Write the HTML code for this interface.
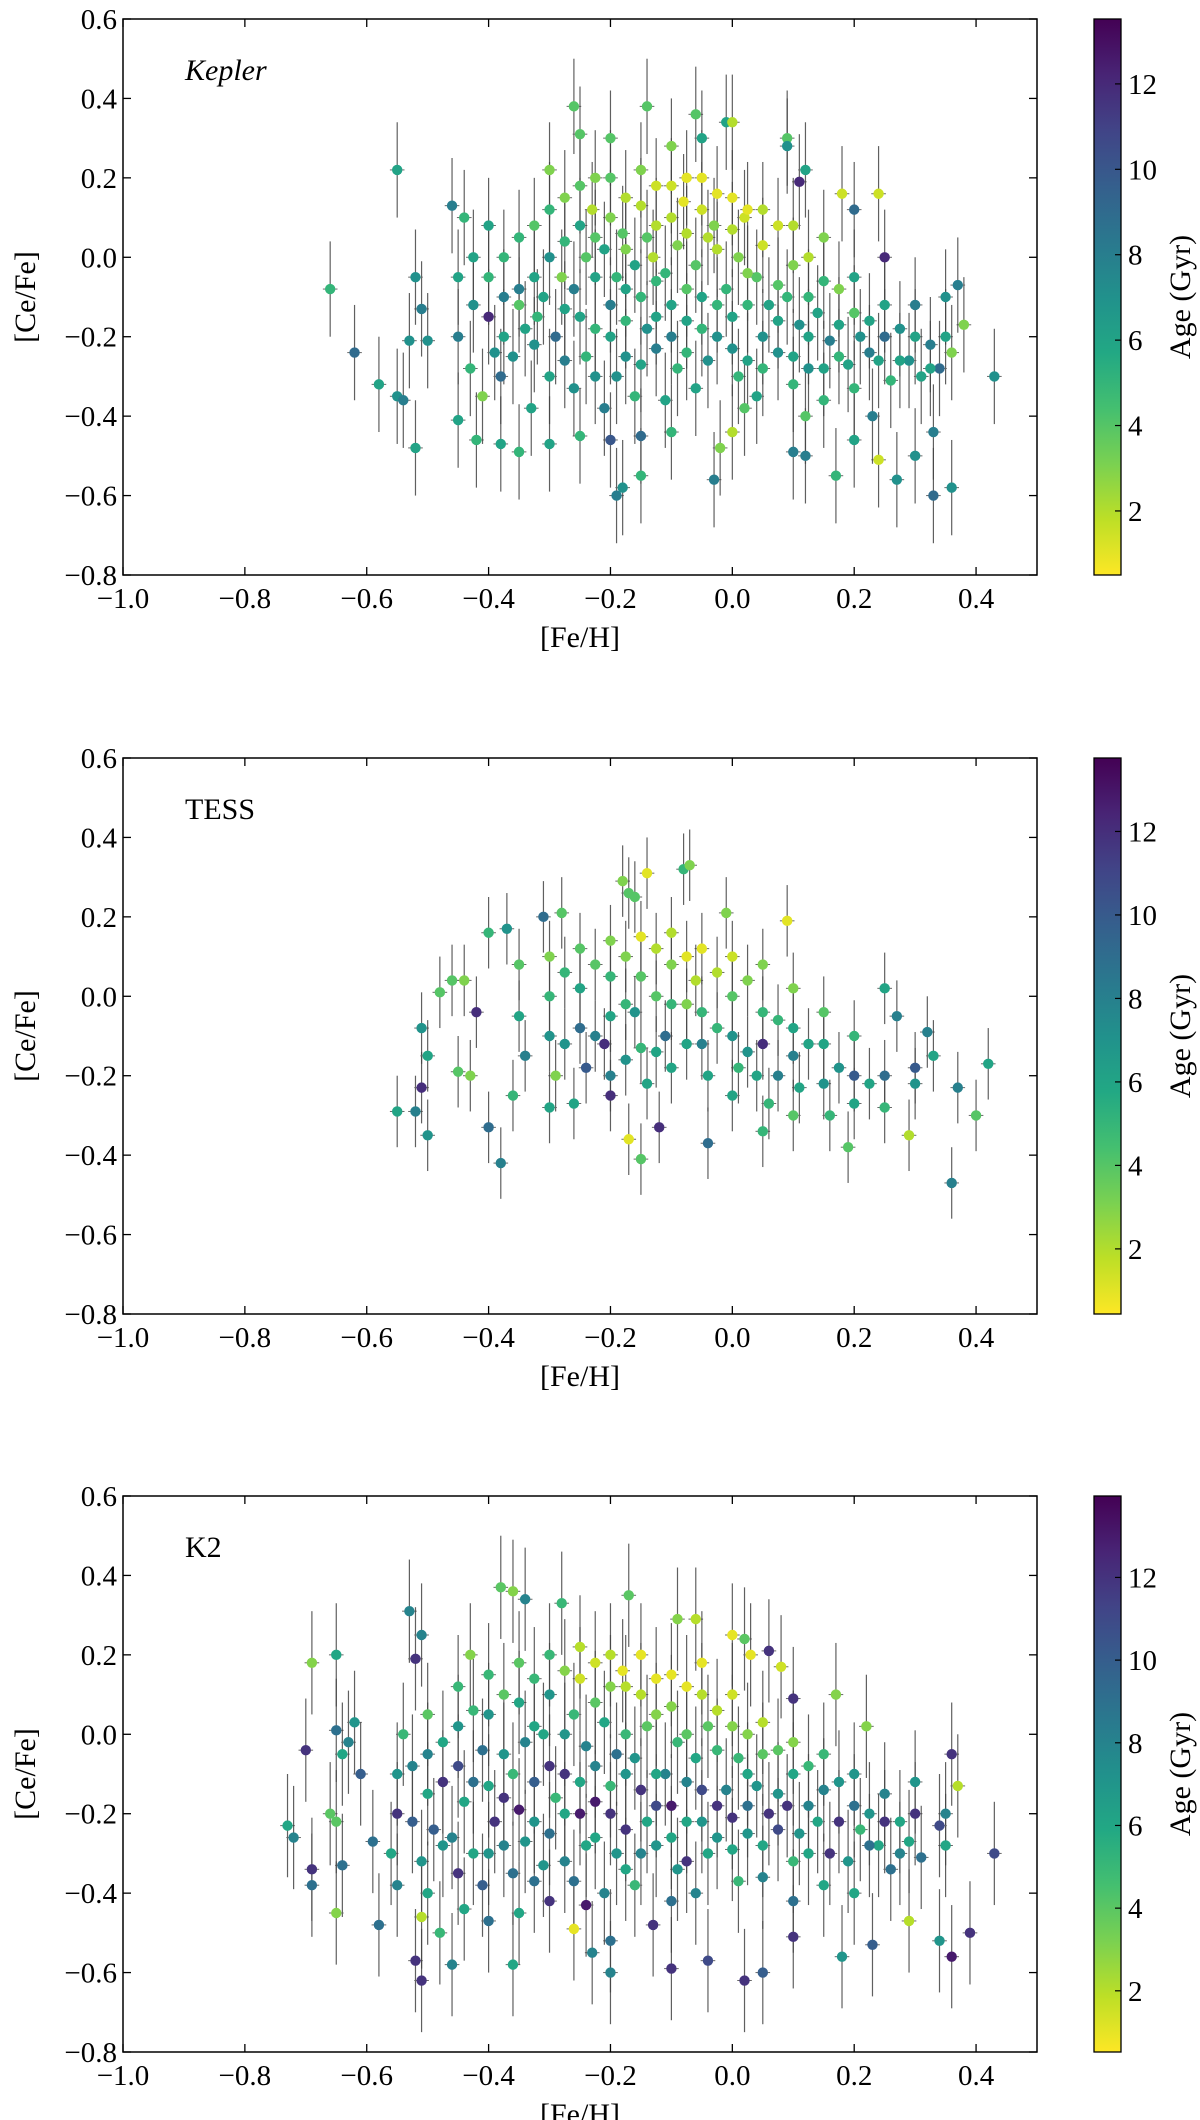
<!DOCTYPE html>
<html><head><meta charset="utf-8">
<style>
html,body{margin:0;padding:0;background:#fff;}
svg{display:block;font-family:"Liberation Serif",serif;}
</style></head>
<body>
<svg id="fig" width="1200" height="2120" viewBox="0 0 1200 2120" xmlns="http://www.w3.org/2000/svg">
<defs>
<linearGradient id="viridis" x1="0" y1="1" x2="0" y2="0">
<stop offset="0" stop-color="#fde725"/><stop offset="0.1" stop-color="#bddf26"/><stop offset="0.2" stop-color="#7ad151"/><stop offset="0.3" stop-color="#44bf70"/><stop offset="0.4" stop-color="#22a884"/><stop offset="0.5" stop-color="#21918c"/><stop offset="0.6" stop-color="#2a788e"/><stop offset="0.7" stop-color="#355f8d"/><stop offset="0.8" stop-color="#414487"/><stop offset="0.9" stop-color="#482475"/><stop offset="1" stop-color="#440154"/>
</linearGradient>
</defs>
</svg>
<script>
// ---- data: [Fe/H], [Ce/Fe], Age (Gyr) ----
const keplerPoints = [
[-0.66,-0.08,5],[-0.62,-0.24,9],[-0.58,-0.32,6],[-0.55,0.22,6],[-0.55,-0.35,7],[-0.54,-0.36,8],[-0.52,-0.48,6],[-0.51,-0.13,8],[-0.52,-0.05,7],[-0.53,-0.21,7],[-0.5,-0.21,7],[0.43,-0.3,7],[0.38,-0.17,3],[0.37,-0.07,8],[0.36,-0.58,7],[0.33,-0.6,9],[0.33,-0.44,8],[0.24,0.16,1.5],[0.25,0.0,12],[0.2,0.12,9],[0.18,0.16,1.5],[0.11,0.19,12],[0.09,0.3,4],[0.09,0.28,7],[0.12,0.22,6],[-0.26,0.38,4],[-0.14,0.38,4],[-0.06,0.36,4],[-0.01,0.34,6],[0.0,0.34,2],[-0.05,0.3,6],[-0.25,0.31,4],[-0.2,0.3,4],[-0.1,0.28,3],[-0.03,-0.56,8],[-0.19,-0.6,8],[-0.18,-0.58,7],[-0.15,-0.55,5],[-0.02,-0.48,3],[0.0,-0.44,2],[0.17,-0.55,5],[0.27,-0.56,7],[0.24,-0.51,1.5],[0.3,-0.5,7],[-0.38,-0.47,6],[-0.35,-0.49,5],[-0.42,-0.46,5],[-0.45,-0.41,6],[-0.3,-0.47,6],[-0.25,-0.45,5],[-0.2,-0.46,10],[-0.15,-0.45,9],[-0.1,-0.44,5],[0.1,-0.49,8],[0.12,-0.5,8],[0.2,-0.46,6],
[-0.45,-0.05,6],[-0.45,-0.2,8],[-0.44,0.1,5],[-0.43,-0.28,5],[-0.46,0.13,8],
[-0.4,0.08,6],[-0.4,-0.05,5],[-0.4,-0.15,12],[-0.39,-0.24,7],[-0.41,-0.35,3],[-0.38,-0.3,9],
[-0.35,0.05,5],[-0.35,-0.08,8],[-0.34,-0.18,6],[-0.36,-0.25,7],[-0.33,-0.38,6],[-0.35,-0.12,4],
[-0.3,0.22,3],[-0.3,0.12,5],[-0.3,0.0,7],[-0.31,-0.1,6],[-0.29,-0.2,9],[-0.3,-0.3,6],[-0.28,-0.05,3],[-0.32,-0.15,5],
[-0.25,0.18,4],[-0.25,0.08,6],[-0.24,0.0,4],[-0.26,-0.08,8],[-0.25,-0.15,6],[-0.24,-0.25,5],[-0.26,-0.33,7],[-0.23,0.12,2],
[-0.2,0.2,4],[-0.2,0.1,3],[-0.21,0.02,6],[-0.19,-0.05,5],[-0.2,-0.12,8],[-0.2,-0.2,6],[-0.19,-0.3,7],[-0.21,-0.38,8],[-0.18,0.06,4],
[-0.15,0.22,3],[-0.15,0.13,2],[-0.14,0.05,4],[-0.16,-0.02,6],[-0.15,-0.1,5],[-0.14,-0.18,7],[-0.15,-0.27,6],[-0.16,-0.35,5],[-0.13,0.0,2],
[-0.1,0.18,1.5],[-0.1,0.1,2],[-0.09,0.03,3],[-0.11,-0.04,5],[-0.1,-0.12,6],[-0.1,-0.2,8],[-0.09,-0.28,5],[-0.11,-0.36,6],[-0.08,0.14,1],
[-0.05,0.2,1],[-0.05,0.12,1.5],[-0.04,0.05,2],[-0.06,-0.02,4],[-0.05,-0.1,6],[-0.05,-0.18,5],[-0.04,-0.26,7],[-0.06,-0.33,6],[-0.03,0.08,3],
[0.0,0.15,1],[0.0,0.07,2],[0.01,0.0,3],[-0.01,-0.08,5],[0.0,-0.15,6],[0.0,-0.23,7],[0.01,-0.3,5],[0.02,-0.38,4],[0.02,0.1,1.5],
[0.05,0.12,2],[0.05,0.03,1.5],[0.04,-0.05,4],[0.06,-0.12,6],[0.05,-0.2,7],[0.05,-0.28,5],[0.04,-0.35,6],
[0.1,0.08,2],[0.1,-0.02,3],[0.09,-0.1,5],[0.11,-0.17,7],[0.1,-0.25,6],[0.1,-0.32,5],[0.12,-0.4,4],
[0.15,0.05,3],[0.15,-0.06,5],[0.14,-0.14,6],[0.16,-0.21,8],[0.15,-0.28,6],[0.15,-0.36,5],
[0.2,-0.05,6],[0.2,-0.14,4],[0.21,-0.2,7],[0.19,-0.27,6],[0.2,-0.33,5],
[0.25,-0.12,6],[0.25,-0.2,9],[0.24,-0.26,6],[0.26,-0.31,5],[0.23,-0.4,8],
[0.3,-0.12,8],[0.3,-0.2,6],[0.29,-0.26,7],[0.31,-0.3,6],
[0.35,-0.1,7],[0.35,-0.2,6],[0.34,-0.28,9],[0.36,-0.24,3],
[-0.425,0.0,6],[-0.425,-0.12,7],[-0.375,0.0,5],[-0.375,-0.1,8],[-0.375,-0.2,6],[-0.325,0.08,4],[-0.325,-0.05,6],[-0.325,-0.22,7],[-0.275,0.15,3],[-0.275,0.04,5],[-0.275,-0.13,6],[-0.275,-0.26,8],[-0.225,0.2,3],[-0.225,0.05,4],[-0.225,-0.05,6],[-0.225,-0.18,5],[-0.225,-0.3,7],[-0.175,0.15,2],[-0.175,0.02,3],[-0.175,-0.08,6],[-0.175,-0.16,5],[-0.175,-0.25,7],[-0.125,0.18,1.5],[-0.125,0.08,2],[-0.125,-0.06,5],[-0.125,-0.15,6],[-0.125,-0.23,8],[-0.075,0.2,1],[-0.075,0.06,2],[-0.075,-0.08,4],[-0.075,-0.16,6],[-0.075,-0.24,5],[-0.025,0.16,1],[-0.025,0.02,2],[-0.025,-0.12,5],[-0.025,-0.2,7],[0.025,0.12,1],[0.025,-0.04,3],[0.025,-0.12,5],[0.025,-0.26,6],[0.075,0.08,1.5],[0.075,-0.07,4],[0.075,-0.16,6],[0.075,-0.24,7],[0.125,0.0,2],[0.125,-0.1,5],[0.125,-0.2,6],[0.125,-0.28,7],[0.175,-0.08,3],[0.175,-0.17,6],[0.175,-0.25,5],[0.225,-0.16,6],[0.225,-0.24,8],[0.275,-0.18,7],[0.275,-0.26,6],[0.325,-0.22,8],[0.325,-0.28,6]
];
const tessPoints = [
[-0.55,-0.29,6],[-0.52,-0.29,8],[-0.51,-0.23,12],[-0.51,-0.08,7],[-0.5,-0.35,7],[-0.5,-0.15,6],[-0.48,0.01,4],[-0.46,0.04,4],[-0.44,0.04,3],[-0.45,-0.19,4],[-0.43,-0.2,3],[-0.42,-0.04,12],[-0.4,0.16,5],[-0.4,-0.33,9],[-0.38,-0.42,8],[-0.37,0.17,7],[-0.31,0.2,9],[-0.28,0.21,4],[-0.18,0.29,3],[-0.17,0.26,4],[-0.16,0.25,4],[-0.14,0.31,1],[-0.08,0.32,5],[-0.07,0.33,3],[-0.01,0.21,3],[0.09,0.19,1],[0.25,0.02,6],[0.27,-0.05,8],[0.32,-0.09,8],[0.33,-0.15,6],[0.37,-0.23,8],[0.36,-0.47,8],[0.42,-0.17,6],[0.4,-0.3,4],[0.29,-0.35,2],[0.19,-0.38,4],[-0.15,-0.41,4],[-0.17,-0.36,1],[-0.04,-0.37,9],[0.05,-0.34,5],[-0.2,-0.25,12],[-0.12,-0.33,12],
[-0.35,0.08,4],[-0.35,-0.05,6],[-0.34,-0.15,8],[-0.36,-0.25,5],[-0.3,0.1,3],[-0.3,0.0,5],[-0.3,-0.1,7],[-0.29,-0.2,3],[-0.3,-0.28,6],[-0.25,0.12,4],[-0.25,0.02,6],[-0.25,-0.08,9],[-0.24,-0.18,10],[-0.26,-0.27,6],[-0.2,0.14,3],[-0.2,0.05,5],[-0.2,-0.05,6],[-0.21,-0.12,12],[-0.2,-0.2,8],[-0.15,0.15,1],[-0.15,0.05,4],[-0.16,-0.04,7],[-0.15,-0.13,5],[-0.14,-0.22,6],[-0.1,0.16,2],[-0.1,0.08,3],[-0.1,-0.02,5],[-0.11,-0.1,9],[-0.1,-0.18,6],[-0.05,0.12,1],[-0.06,0.04,2],[-0.05,-0.04,5],[-0.05,-0.12,8],[-0.04,-0.2,6],[0.0,0.1,1.5],[0.0,0.0,4],[0.0,-0.1,7],[0.01,-0.18,5],[0.0,-0.25,6],[0.05,0.08,3],[0.05,-0.04,5],[0.05,-0.12,12],[0.04,-0.2,6],[0.06,-0.27,5],[0.1,0.02,3],[0.1,-0.08,6],[0.1,-0.15,8],[0.11,-0.23,6],[0.1,-0.3,4],[0.15,-0.04,4],[0.15,-0.12,6],[0.15,-0.22,7],[0.16,-0.3,5],[0.2,-0.1,5],[0.2,-0.2,10],[0.2,-0.27,6],[0.25,-0.2,9],[0.25,-0.28,5],[0.3,-0.22,7],[0.3,-0.18,10],
[-0.275,0.06,5],[-0.275,-0.12,7],[-0.225,0.08,4],[-0.225,-0.1,8],[-0.175,0.1,3],[-0.175,-0.02,5],[-0.175,-0.16,7],[-0.125,0.12,2],[-0.125,0.0,4],[-0.125,-0.14,6],[-0.075,0.1,1],[-0.075,-0.02,3],[-0.075,-0.12,6],[-0.025,0.06,2],[-0.025,-0.08,5],[0.025,0.04,3],[0.025,-0.14,7],[0.075,-0.06,5],[0.075,-0.2,8],[0.125,-0.12,6],[0.175,-0.18,7],[0.225,-0.22,6]
];
const k2Points = [
[-0.73,-0.23,6],[-0.72,-0.26,8],[-0.69,0.18,3],[-0.7,-0.04,12],[-0.69,-0.34,12],[-0.69,-0.38,9],[-0.66,-0.2,4],[-0.65,0.2,6],[-0.65,0.01,9],[-0.65,-0.22,4],[-0.64,-0.05,6],[-0.63,-0.02,8],[-0.62,0.03,7],[-0.61,-0.1,10],[-0.64,-0.33,9],[-0.65,-0.45,3],[-0.59,-0.27,9],[-0.58,-0.48,9],[-0.53,0.31,8],[-0.52,0.19,12],[-0.51,0.25,8],[-0.52,-0.57,12],[-0.51,-0.62,12],[-0.51,-0.46,2],[-0.46,-0.58,8],[-0.38,0.37,4],[-0.36,0.36,3],[-0.34,0.34,8],[-0.28,0.33,5],[-0.17,0.35,4],[-0.09,0.29,3],[-0.06,0.29,2],[0.0,0.25,1],[0.02,0.24,4],[0.03,0.2,1],[0.06,0.21,12],[0.08,0.17,1.5],[0.1,0.09,12],[0.17,0.1,3],[0.22,0.02,3],[0.36,-0.05,12],[0.37,-0.13,2],[0.43,-0.3,11],[0.39,-0.5,12],[0.36,-0.56,13],[0.34,-0.52,7],[0.02,-0.62,12],[0.05,-0.6,10],[-0.1,-0.59,12],[-0.04,-0.57,11],[-0.2,-0.6,8],[-0.23,-0.55,8],[-0.36,-0.58,6],[-0.26,-0.49,1],[-0.2,-0.52,9],[-0.13,-0.48,12],[0.1,-0.51,12],[0.18,-0.56,7],[0.23,-0.53,10],[-0.24,-0.43,13],[0.29,-0.47,2],
[-0.55,-0.1,7],[-0.55,-0.2,12],[-0.56,-0.3,6],[-0.54,0.0,5],[-0.55,-0.38,8],
[-0.5,0.05,4],[-0.5,-0.05,8],[-0.5,-0.15,6],[-0.49,-0.24,10],[-0.51,-0.32,7],[-0.5,-0.4,6],[-0.48,-0.5,5],
[-0.45,0.12,5],[-0.45,0.02,7],[-0.45,-0.08,11],[-0.44,-0.17,6],[-0.46,-0.26,8],[-0.45,-0.35,12],[-0.44,-0.44,6],[-0.43,0.2,3],
[-0.4,0.15,5],[-0.4,0.05,7],[-0.41,-0.04,9],[-0.4,-0.13,6],[-0.39,-0.22,12],[-0.4,-0.3,7],[-0.41,-0.38,10],[-0.4,-0.47,9],
[-0.35,0.18,4],[-0.35,0.08,6],[-0.34,-0.02,8],[-0.36,-0.1,5],[-0.35,-0.19,13],[-0.34,-0.27,7],[-0.36,-0.35,9],[-0.35,-0.45,6],
[-0.3,0.2,5],[-0.3,0.1,7],[-0.31,0.0,6],[-0.3,-0.08,12],[-0.29,-0.16,5],[-0.3,-0.25,9],[-0.31,-0.33,7],[-0.3,-0.42,12],
[-0.25,0.22,2],[-0.25,0.14,1.5],[-0.26,0.05,5],[-0.24,-0.03,8],[-0.25,-0.12,6],[-0.25,-0.2,13],[-0.24,-0.28,6],[-0.26,-0.37,9],
[-0.2,0.2,2],[-0.2,0.12,3],[-0.21,0.03,6],[-0.19,-0.05,9],[-0.2,-0.13,5],[-0.2,-0.2,12],[-0.19,-0.3,7],[-0.21,-0.4,8],[-0.18,0.16,1],
[-0.15,0.2,1],[-0.15,0.1,2],[-0.14,0.02,4],[-0.16,-0.06,7],[-0.15,-0.14,12],[-0.14,-0.22,6],[-0.15,-0.3,8],[-0.16,-0.38,5],
[-0.1,0.15,1],[-0.1,0.07,3],[-0.09,-0.02,5],[-0.11,-0.1,8],[-0.1,-0.18,13],[-0.1,-0.26,6],[-0.09,-0.34,7],[-0.1,-0.42,9],
[-0.05,0.18,1],[-0.05,0.1,2],[-0.04,0.02,4],[-0.06,-0.06,6],[-0.05,-0.14,11],[-0.05,-0.22,7],[-0.04,-0.3,6],[-0.06,-0.4,8],
[0.0,0.1,1.5],[0.0,0.02,3],[0.01,-0.06,5],[-0.01,-0.14,8],[0.0,-0.21,12],[0.0,-0.29,6],[0.01,-0.37,5],
[0.05,0.03,2],[0.05,-0.05,4],[0.04,-0.13,7],[0.06,-0.2,12],[0.05,-0.28,6],[0.05,-0.36,8],
[0.1,-0.02,3],[0.1,-0.1,6],[0.09,-0.18,12],[0.11,-0.25,7],[0.1,-0.32,5],[0.1,-0.42,9],
[0.15,-0.05,5],[0.15,-0.14,8],[0.14,-0.22,6],[0.16,-0.3,12],[0.15,-0.38,6],
[0.2,-0.1,7],[0.2,-0.18,9],[0.21,-0.24,5],[0.19,-0.32,7],[0.2,-0.4,6],
[0.25,-0.15,8],[0.25,-0.22,12],[0.24,-0.28,6],[0.26,-0.34,9],
[0.3,-0.12,7],[0.3,-0.2,12],[0.29,-0.27,6],[0.31,-0.31,9],
[0.35,-0.2,8],[0.35,-0.28,6],[0.34,-0.23,11],
[-0.525,-0.08,8],[-0.525,-0.22,10],[-0.475,-0.02,6],[-0.475,-0.12,12],[-0.475,-0.28,7],[-0.425,0.06,5],[-0.425,-0.12,9],[-0.425,-0.3,6],[-0.375,0.1,4],[-0.375,-0.05,7],[-0.375,-0.16,12],[-0.375,-0.28,8],[-0.325,0.14,5],[-0.325,0.02,6],[-0.325,-0.12,10],[-0.325,-0.22,7],[-0.325,-0.37,9],[-0.275,0.16,3],[-0.275,0.0,7],[-0.275,-0.1,12],[-0.275,-0.2,6],[-0.275,-0.32,8],[-0.225,0.18,1.5],[-0.225,0.08,4],[-0.225,-0.08,8],[-0.225,-0.17,13],[-0.225,-0.26,6],[-0.175,0.12,2],[-0.175,0.0,5],[-0.175,-0.1,7],[-0.175,-0.24,12],[-0.175,-0.34,6],[-0.125,0.14,1],[-0.125,0.05,3],[-0.125,-0.1,6],[-0.125,-0.18,11],[-0.125,-0.28,7],[-0.075,0.12,1],[-0.075,0.0,4],[-0.075,-0.12,8],[-0.075,-0.22,6],[-0.075,-0.32,12],[-0.025,0.06,2],[-0.025,-0.04,5],[-0.025,-0.18,12],[-0.025,-0.26,7],[0.025,0.0,3],[0.025,-0.1,6],[0.025,-0.18,9],[0.025,-0.25,7],[0.075,-0.04,4],[0.075,-0.15,7],[0.075,-0.24,11],[0.125,-0.08,5],[0.125,-0.18,8],[0.125,-0.3,6],[0.175,-0.12,7],[0.175,-0.22,12],[0.225,-0.2,7],[0.225,-0.28,9],[0.275,-0.22,6],[0.275,-0.3,8]
];
const xTicks = [-1.0,-0.8,-0.6,-0.4,-0.2,0.0,0.2,0.4];
const yTicks = [-0.8,-0.6,-0.4,-0.2,0.0,0.2,0.4,0.6];
const ageTicks = [2,4,6,8,10,12];
const panelNames = ["Kepler","TESS","K2"];
const ageMin = [0.5,0.44,0.52];
const ageMax = [13.52,13.76,13.97];
const ceErr = [0.12,0.09,0.13];

const NS="http://www.w3.org/2000/svg";
const svg=document.getElementById('fig');
function mk(tag,attrs,parent){const e=document.createElementNS(NS,tag);for(const k in attrs)e.setAttribute(k,attrs[k]);(parent||svg).appendChild(e);return e;}
const VIR=["#440154","#482475","#414487","#355f8d","#2a788e","#21918c","#22a884","#44bf70","#7ad151","#bddf26","#fde725"];
function viridis(t){t=Math.max(0,Math.min(1,t));const f=t*10,i=Math.min(9,Math.floor(f)),r=f-i;
 const a=VIR[i],b=VIR[i+1];const c=j=>Math.round(parseInt(a.substr(j,2),16)*(1-r)+parseInt(b.substr(j,2),16)*r);
 return `rgb(${c(1)},${c(3)},${c(5)})`;}
function fmt(v){const s=Math.abs(v).toFixed(1);return (v<-1e-9?'\u2212':'')+s;}

const L=123,R=1037,H=556,tops=[19,758,1496];
const CBL=1094,CBW=27;
const datasets=[keplerPoints,tessPoints,k2Points];

datasets.forEach((pts,p)=>{
 const top=tops[p],bot=top+H;
 const xs=v=>L+(v-(-1.0))/(0.5-(-1.0))*(R-L);
 const ys=v=>bot-(v-(-0.8))/(0.6-(-0.8))*H;
 const g=mk('g',{});
 
 
 const fehs=pts.map(d=>d[0]),ces=pts.map(d=>d[1]),ages=pts.map(d=>d[2]);
 const eg=mk('g',{},g);
 
 
 fehs.forEach((x,i)=>{
  const l=mk('line',{x1:xs(x),x2:xs(x),y1:ys(ces[i]-ceErr[p]),y2:ys(ces[i]+ceErr[p]),stroke:'#444','stroke-width':1.2,'stroke-opacity':0.85},eg);
  
  
  const h=mk('line',{x1:xs(x-0.012),x2:xs(x+0.012),y1:ys(ces[i]),y2:ys(ces[i]),stroke:'#666','stroke-width':1},eg);
  
  
 });
 const pg=mk('g',{},g);
 
 
 fehs.forEach((x,i)=>{
  const c=mk('circle',{cx:xs(x),cy:ys(ces[i]),r:5.2,fill:viridis(1-(ages[i]-ageMin[p])/(ageMax[p]-ageMin[p]))},pg);
  
  
 });
 const fr=mk('rect',{x:L,y:top,width:R-L,height:H,fill:'none',stroke:'#000','stroke-width':1.5},g);
 
 
 xTicks.forEach(v=>{
  mk('line',{x1:xs(v),x2:xs(v),y1:bot,y2:bot-8,stroke:'#000','stroke-width':1.3},g);
  mk('line',{x1:xs(v),x2:xs(v),y1:top,y2:top+8,stroke:'#000','stroke-width':1.3},g);
  const t=mk('text',{x:xs(v),y:bot+33,'text-anchor':'middle','font-size':29},g);
  t.textContent=fmt(v);
  
  
 });
 yTicks.forEach(v=>{
  mk('line',{x1:L,x2:L+8,y1:ys(v),y2:ys(v),stroke:'#000','stroke-width':1.3},g);
  mk('line',{x1:R,x2:R-8,y1:ys(v),y2:ys(v),stroke:'#000','stroke-width':1.3},g);
  const t=mk('text',{x:117,y:ys(v)+10,'text-anchor':'end','font-size':29},g);
  t.textContent=fmt(v);
  
  
 });
 const xt=mk('text',{x:(L+R)/2,y:bot+72,'text-anchor':'middle','font-size':30},g);
 xt.textContent='[Fe/H]';
 
 
 const yc=top+H/2;
 const yt=mk('text',{x:0,y:0,'text-anchor':'middle','font-size':30,transform:`translate(35,${yc}) rotate(-90)`},g);
 yt.textContent='[Ce/Fe]';
 
 
 const lab=mk('text',{x:185,y:top+61,'font-size':30,'font-style':p===0?'italic':'normal'},g);
 lab.textContent=panelNames[p];
 
 
 const cb=mk('rect',{x:CBL,y:top,width:CBW,height:H,fill:'url(#viridis)',stroke:'#000','stroke-width':1.3},g);
 
 
 const cs=v=>bot-(v-ageMin[p])/(ageMax[p]-ageMin[p])*H;
 ageTicks.forEach(v=>{
  mk('line',{x1:CBL+CBW-6,x2:CBL+CBW,y1:cs(v),y2:cs(v),stroke:'#000','stroke-width':1.2},g);
  const t=mk('text',{x:1128,y:cs(v)+10,'font-size':29},g);
  t.textContent=String(v);
  
  
 });
 const ct=mk('text',{x:0,y:0,'text-anchor':'middle','font-size':30,transform:`translate(1190,${yc}) rotate(-90)`},g);
 ct.textContent='Age (Gyr)';
 
 
});
</script>
</body></html>
